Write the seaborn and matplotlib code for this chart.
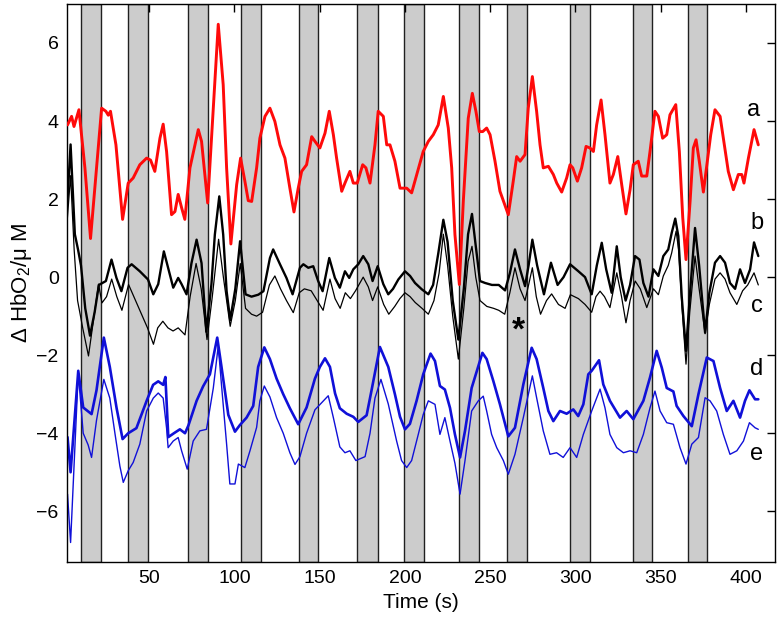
import matplotlib
matplotlib.use("Agg")
import matplotlib.pyplot as plt
import seaborn as sns
import pandas as pd

# ---- data ----
band_starts = [10, 37.5, 72.5, 104, 138, 172, 199.5, 231.5, 260, 297, 333.5, 366]
band_ends = [21.8, 49.2, 84.3, 115.5, 149.1, 184, 211.3, 243.2, 271.7, 308.7, 345, 377.3]

a_x = [2.1, 4.5, 5.9, 8.8, 12.3, 15.6, 19.1, 22.1, 24.6, 26, 27.3, 30.5, 34.4, 37.7, 40.6, 44.5, 48.5, 50.8, 53.3, 56.3, 58.2, 60.2, 63.1, 65.1, 67, 69, 70.9, 73.9, 78.8, 80.7, 84.3, 87.6, 90.5, 93.4, 95.4, 97.9, 101.3, 103.6, 106.1, 108.1, 110.1, 113, 114.9, 117.9, 120.8, 123.7, 126.7, 129.6, 132.5, 134.9, 137.4, 139.4, 142.3, 145.3, 147.2, 150.1, 153.1, 155.6, 158, 159.9, 162.9, 164.8, 167.7, 169.7, 172, 175.2, 177.1, 179.5, 182.4, 184.3, 187.3, 189.3, 191.2, 194.1, 197.1, 201, 203.9, 206.9, 210.7, 213.7, 216.6, 219.5, 222.5, 225.4, 227.4, 229.3, 231.9, 234.2, 237.1, 239.5, 241.6, 243.6, 245.6, 247.9, 249.9, 252.8, 255.7, 260.6, 263.5, 265.5, 267.5, 270.4, 272.3, 274.7, 277.2, 279.2, 281.1, 284.1, 287, 289, 291.9, 294.8, 296.8, 298.4, 301.1, 303.6, 306.2, 308.5, 310.5, 312.4, 315, 317.3, 320.2, 322.2, 324.8, 327.1, 329.6, 332, 333.9, 336.8, 338.8, 341.8, 343.7, 346.6, 348.6, 351.1, 353.5, 355.4, 358.8, 360.9, 362.9, 364.8, 367.2, 369.1, 370.7, 372.6, 375, 377.3, 379.3, 381.8, 384.8, 386.7, 389.6, 392.6, 395.5, 397.5, 398.8, 401.4, 404.7, 407.2]
a_y = [3.9, 4.12, 3.86, 4.29, 2.8, 0.99, 2.8, 4.33, 4.25, 4.15, 4.25, 3.39, 1.48, 2.41, 2.54, 2.88, 3.05, 3.0, 2.71, 3.56, 3.92, 3.22, 1.6, 1.68, 2.12, 1.78, 1.48, 2.8, 3.78, 3.48, 1.9, 4.33, 6.48, 4.93, 2.8, 0.85, 2.37, 3.05, 2.46, 1.96, 1.94, 2.8, 3.56, 4.12, 4.33, 3.99, 3.39, 3.05, 2.28, 1.67, 2.28, 2.71, 2.88, 3.6, 3.48, 3.31, 3.69, 4.25, 3.65, 3.05, 2.2, 2.41, 2.71, 2.41, 2.41, 2.88, 2.8, 2.41, 3.39, 4.25, 4.12, 3.39, 3.39, 2.97, 2.28, 2.28, 2.16, 2.63, 3.22, 3.48, 3.65, 3.9, 4.63, 3.82, 2.8, 1.09, -0.19, 1.94, 4.07, 4.71, 4.25, 3.73, 3.73, 3.82, 3.65, 2.97, 2.2, 1.6, 2.46, 3.09, 2.97, 3.14, 4.33, 5.14, 4.25, 3.39, 2.8, 2.84, 2.63, 2.41, 2.18, 2.54, 2.88, 2.8, 2.46, 2.8, 3.35, 3.31, 3.22, 3.9, 4.54, 3.65, 2.41, 2.63, 3.09, 2.37, 1.62, 2.24, 2.88, 2.97, 2.59, 2.59, 3.22, 4.25, 4.12, 3.56, 3.65, 4.16, 4.42, 3.22, 1.52, 0.45, 1.94, 3.31, 3.52, 2.97, 2.18, 2.97, 3.65, 4.29, 4.12, 3.56, 2.71, 2.24, 2.63, 2.63, 2.41, 3.05, 3.78, 3.39]

b_x = [2, 3.9, 6.4, 8.3, 10, 12.5, 15.3, 18, 20.5, 24.6, 27.9, 30.8, 33.7, 37.3, 39.7, 44.5, 49.3, 52.4, 55.3, 58.6, 61.1, 64.1, 67, 69, 71.9, 74.8, 77.8, 80.7, 83.5, 86.5, 88.5, 91.1, 93.4, 95.4, 97.5, 100.5, 103.3, 106.5, 110, 114, 117, 120.8, 122.7, 126.7, 130.5, 134.1, 138.4, 140.4, 143.3, 146.2, 149.1, 151.7, 155.6, 158.9, 161.8, 164.8, 167.3, 169.7, 172.6, 175.5, 178.5, 181, 184, 187.3, 190.2, 193, 196.1, 200, 203, 205.9, 209.8, 213.7, 216.5, 219.5, 222.5, 225, 228, 231.3, 234.5, 237, 239.3, 241.5, 244, 247, 251, 255, 258.7, 261.5, 264.5, 267.5, 270.4, 272.5, 274.7, 277.5, 281.5, 285.6, 289.5, 293, 296.8, 301.7, 305.6, 309.5, 312.5, 315.4, 318, 321.2, 324.2, 326.5, 329.4, 332, 334.9, 337.5, 339.8, 342.8, 345.7, 348.6, 351.5, 354.4, 356.4, 358.5, 360.3, 362.3, 364.8, 367, 370.1, 372.5, 376, 378.5, 381.8, 384.8, 387.7, 390.6, 393.6, 396.5, 399.4, 402.4, 404.7, 407.2]
b_y = [1.9, 3.4, 1.1, 0.7, 0.3, -0.8, -1.5, -0.9, -0.2, -0.1, 0.45, -0.02, -0.36, 0.24, 0.33, 0.15, -0.06, -0.44, -0.18, 0.66, 0.24, -0.27, -0.02, -0.18, -0.44, 0.36, 0.96, 0.36, -1.4, -0.18, 1.09, 2.07, 1.09, -0.36, -1.1, -0.3, 0.92, -0.44, -0.5, -0.45, -0.36, 0.49, 0.71, 0.33, -0.02, -0.44, 0.24, 0.33, 0.24, 0.28, -0.1, -0.36, 0.49, -0.02, -0.27, 0.15, -0.02, 0.2, 0.33, 0.54, 0.33, -0.1, 0.28, -0.18, -0.44, -0.3, -0.06, 0.15, 0.03, -0.15, -0.31, -0.44, -0.2, 0.6, 1.47, 0.9, -0.6, -1.6, -0.3, 1.1, 1.62, 0.8, -0.1, -0.15, -0.2, -0.2, -0.34, 0.1, 0.71, 0.2, -0.23, 0.3, 0.96, 0.3, -0.44, 0.37, -0.2, 0.0, 0.33, 0.15, 0.0, -0.44, 0.3, 0.88, 0.2, -0.4, 0.79, 0.0, -0.6, -0.2, 0.54, 0.45, -0.15, -0.5, 0.2, 0.03, 0.54, 0.71, 1.13, 1.5, 1.05, -0.5, -1.89, -0.5, 1.26, 0.3, -1.42, -0.4, 0.37, 0.54, 0.37, -0.15, -0.3, 0.2, -0.15, 0.2, 0.89, 0.54]

c_x = [2, 3.9, 6, 8, 11, 14.4, 17, 20.3, 22.3, 25, 28, 31, 34, 37.9, 41, 45, 49, 52.5, 55, 58, 61, 64, 67, 71, 74, 77.5, 80.5, 83.9, 87, 90.7, 93.5, 97.5, 100.5, 103.4, 106.5, 110, 113, 116.5, 120.5, 123.7, 127, 130.5, 134.5, 138, 141, 145, 148.5, 152, 156, 159, 162, 165, 168, 171, 175.5, 178.5, 181, 184, 187.5, 190.5, 194, 197, 200, 203, 206, 210, 213.7, 217, 220, 222.5, 225, 228, 231.3, 234.5, 237, 239.3, 241.5, 244, 248, 252, 255, 258.5, 261.5, 264.5, 267.5, 270.4, 272.5, 274.7, 277, 279.5, 283, 286, 290, 293.9, 297, 301.7, 305.6, 309.5, 312, 314.4, 317, 320.2, 324.2, 327, 329.6, 332, 335, 338, 341.8, 345.7, 348.6, 351.5, 354.4, 356.4, 359, 360.5, 362.5, 364.8, 367, 370.1, 372.5, 376, 378.5, 381.8, 384.8, 387.7, 390.6, 394.6, 398, 401, 404.7, 407.2]
c_y = [1.5, 2.6, 0.7, -0.6, -1.3, -2.02, -1.2, -0.18, -0.66, -0.5, -0.05, -0.5, -0.85, -0.19, -0.5, -0.9, -1.3, -1.72, -1.3, -1.13, -1.3, -1.38, -1.3, -1.48, -0.5, 0.35, -0.3, -1.6, -0.5, 0.97, 0.0, -1.26, -0.6, 0.35, -0.8, -0.95, -1.0, -0.9, -0.2, 0.03, -0.3, -0.6, -0.91, -0.4, -0.3, -0.35, -0.6, -0.85, -0.05, -0.55, -0.8, -0.4, -0.55, -0.35, 0.0, -0.25, -0.6, -0.25, -0.7, -0.95, -0.75, -0.55, -0.4, -0.5, -0.65, -0.8, -0.95, -0.6, 0.1, 1.1, 0.3, -1.0, -2.1, -0.8, 0.4, 0.79, 0.0, -0.6, -0.75, -0.8, -0.85, -0.95, -0.4, 0.24, -0.3, -0.6, -0.2, 0.24, -0.5, -0.95, -0.6, -0.43, -0.7, -0.8, -0.45, -0.55, -0.7, -0.9, -0.5, -0.36, -0.5, -0.78, 0.11, -0.5, -1.17, -0.6, -0.1, -0.3, -0.78, -0.3, -0.45, 0.03, 0.3, 0.62, 1.18, 0.7, -0.8, -2.23, -0.9, 0.54, -0.3, -1.45, -0.7, -0.05, 0.11, -0.05, -0.4, -0.7, -0.35, -0.2, 0.11, -0.2]

d_x = [2.1, 3.9, 8.4, 11.3, 16.2, 19.1, 23.4, 26.9, 30.9, 34.4, 37.7, 42.5, 48.5, 52.3, 55.3, 58.2, 59.5, 61.2, 64.5, 68, 71, 73, 77.8, 81.6, 85.6, 89.9, 92.4, 96.4, 100.3, 103.2, 107.1, 111, 113.9, 117.5, 120.8, 124.7, 128.6, 132.5, 137.4, 142.3, 147.2, 150.1, 153.1, 156, 159, 161.8, 165.8, 169.7, 172.6, 177.5, 180.4, 185.3, 190.2, 194.1, 197.1, 200, 202.9, 206.8, 210.7, 215, 217.6, 220.5, 223.4, 226.4, 229.3, 232.3, 235.2, 239.1, 245.4, 247.9, 251.8, 255.7, 260.6, 264.5, 269.4, 274.3, 277.2, 281.1, 284.1, 287, 290.9, 294.8, 298.7, 301.6, 304.6, 307.5, 309.5, 313.8, 316.3, 320.2, 326.1, 330, 333.9, 339.8, 343.7, 347.6, 350.6, 353.5, 357.4, 359.3, 363.3, 368.2, 372.1, 377, 380.9, 384.8, 388.7, 392.6, 396.5, 399.4, 402, 405.3, 407.2]
d_y = [-4.1, -5.0, -2.4, -3.34, -3.51, -2.9, -1.55, -2.3, -3.36, -4.15, -4.0, -3.87, -3.17, -2.76, -2.67, -2.76, -2.56, -4.1, -4.0, -3.9, -4.0, -3.8, -3.17, -2.8, -2.49, -1.55, -2.3, -3.53, -3.96, -3.79, -3.6, -3.3, -2.3, -1.8, -2.1, -2.6, -3.0, -3.36, -3.77, -3.34, -2.6, -2.3, -2.08, -2.3, -2.98, -3.36, -3.5, -3.58, -3.71, -3.54, -2.9, -1.79, -2.3, -3.0, -3.58, -3.9, -3.76, -3.17, -2.49, -1.96, -2.15, -2.79, -2.88, -3.35, -4.03, -4.62, -3.94, -2.84, -1.94, -2.1, -2.66, -3.26, -4.08, -3.86, -2.75, -1.81, -2.1, -2.84, -3.43, -3.69, -3.43, -3.5, -3.39, -3.56, -3.26, -2.49, -2.4, -2.13, -2.75, -3.17, -3.6, -3.43, -3.64, -3.17, -2.57, -1.89, -2.32, -2.84, -2.93, -3.3, -3.56, -3.82, -3.0, -2.06, -2.15, -2.84, -3.43, -3.17, -3.6, -3.17, -2.9, -3.13, -3.13]

e_x = [2.1, 3.9, 8.4, 11.3, 14.2, 16.2, 19.1, 23.4, 26.9, 29.9, 32.8, 34.8, 37.7, 40.6, 44.5, 48.5, 52.4, 55.3, 58.2, 60.2, 61.1, 64.1, 67, 69, 72.3, 75.8, 79.7, 83.6, 87.6, 90.5, 92.4, 95.4, 97.3, 100.3, 102.3, 106.1, 109.1, 113, 114.9, 117.5, 120.8, 124.7, 128.6, 132.5, 135.5, 138.4, 142.3, 147.2, 155, 158, 161.8, 164.8, 167.7, 171.2, 176.6, 179.5, 182.4, 185.9, 190.2, 195.1, 198, 201, 203.9, 207.8, 210.7, 213.7, 217.6, 220.5, 223.4, 226.4, 229.3, 232.3, 235.2, 239.1, 243, 245.9, 247.9, 250.8, 253.8, 257.7, 260.6, 264.5, 269.4, 274.7, 277.2, 281.1, 285, 288.9, 292.8, 296.8, 300.7, 304.6, 309.5, 314.4, 317.3, 320.2, 324.2, 328.1, 332, 335.9, 339.8, 343.7, 346.6, 349.6, 353.5, 357.4, 361.3, 364.8, 368.2, 372.1, 376, 378.9, 382.8, 386.7, 390.6, 394.6, 398.5, 402, 405.3, 407.2]
e_y = [-5.56, -6.8, -2.45, -4.0, -4.3, -4.62, -3.67, -2.62, -3.1, -4.0, -4.84, -5.26, -4.96, -4.75, -4.28, -3.43, -3.1, -2.97, -3.1, -3.87, -4.37, -4.2, -4.11, -4.45, -4.92, -4.2, -3.94, -3.9, -2.84, -1.76, -2.76, -4.28, -5.3, -5.3, -4.79, -4.88, -4.45, -3.85, -3.17, -2.79, -3.07, -3.6, -4.0, -4.5, -4.8, -4.6, -4.0, -3.4, -3.04, -3.6, -4.35, -4.5, -4.45, -4.7, -4.6, -4.0, -3.1, -2.62, -3.25, -4.2, -4.7, -4.88, -4.7, -4.03, -3.52, -3.17, -3.26, -4.03, -3.6, -4.2, -4.77, -5.56, -4.7, -3.43, -3.17, -3.05, -3.43, -4.03, -4.37, -4.7, -5.05, -4.54, -3.6, -2.53, -3.09, -3.94, -4.54, -4.5, -4.62, -4.37, -4.62, -4.03, -3.43, -2.87, -3.35, -4.03, -4.37, -4.5, -4.45, -4.5, -4.03, -3.35, -2.92, -3.43, -3.73, -3.77, -4.37, -4.79, -4.28, -4.11, -3.09, -3.17, -3.43, -4.03, -4.54, -4.45, -4.2, -3.73, -3.86, -3.9]

series_labels = ["a", "b", "c", "d", "e"]
label_pos = [(404.3, 4.29), (406.3, 1.39), (406.3, -0.74), (406.3, -2.36), (406.3, -4.54)]
star_pos = (266.5, -1.38)

x_ticks = [50, 100, 150, 200, 250, 300, 350, 400]
y_ticks = [-6, -4, -2, 0, 2, 4, 6]

# ---- style ----
sns.set_theme(style="white")
plt.rcParams["font.family"] = ["Liberation Sans", "DejaVu Sans"]
plt.rcParams["mathtext.fontset"] = "custom"
plt.rcParams["mathtext.rm"] = "Liberation Sans"
plt.rcParams["mathtext.it"] = "Liberation Sans:italic"
plt.rcParams["text.color"] = "black"
plt.rcParams["axes.labelcolor"] = "black"

fig = plt.figure(figsize=(7.8, 6.21), dpi=100)
ax = fig.add_axes([0.0859, 0.095, 0.9077, 0.8986])

for s, e in zip(band_starts, band_ends):
    ax.axvspan(s, e, facecolor="#cccccc", edgecolor="#202020", linewidth=1.0, zorder=0)

series = [
    (b_x, b_y, "black", 1.7, 2),
    (c_x, c_y, "black", 0.9, 2),
    (d_x, d_y, "#1010d8", 1.9, 2),
    (e_x, e_y, "#1010d8", 1.0, 2),
    (a_x, a_y, "#ff0a0a", 2.1, 3),
]
for xs, ys, col, lw, z in series:
    df = pd.DataFrame({"t": xs, "v": ys})
    sns.lineplot(data=df, x="t", y="v", ax=ax, color=col, linewidth=lw,
                 estimator=None, sort=False, zorder=z,
                 solid_joinstyle="round", solid_capstyle="round")

for lab, (lx, ly) in zip(series_labels, label_pos):
    ax.text(lx, ly, lab, fontsize=17, ha="center", va="center", color="black")
ax.text(star_pos[0], star_pos[1], "*", fontsize=24, fontweight="bold",
        ha="center", va="center", color="black")

ax.set_xlim(1.8, 417)
ax.set_ylim(-7.3, 7.0)
ax.set_xticks(x_ticks)
ax.set_yticks(y_ticks)
ax.tick_params(direction="in", top=True, right=True, length=6, width=1,
               labelsize=14, colors="black", labelcolor="black", pad=6)
for sp in ax.spines.values():
    sp.set_color("black")
    sp.set_linewidth(1.0)
    sp.set_visible(True)
ax.set_xlabel("Time (s)", fontsize=15, labelpad=4, color="black")
ax.set_ylabel("Δ HbO$_2$/μ M", fontsize=16, labelpad=2, color="black")
ax.grid(False)

fig.savefig("out.png", dpi=100)
